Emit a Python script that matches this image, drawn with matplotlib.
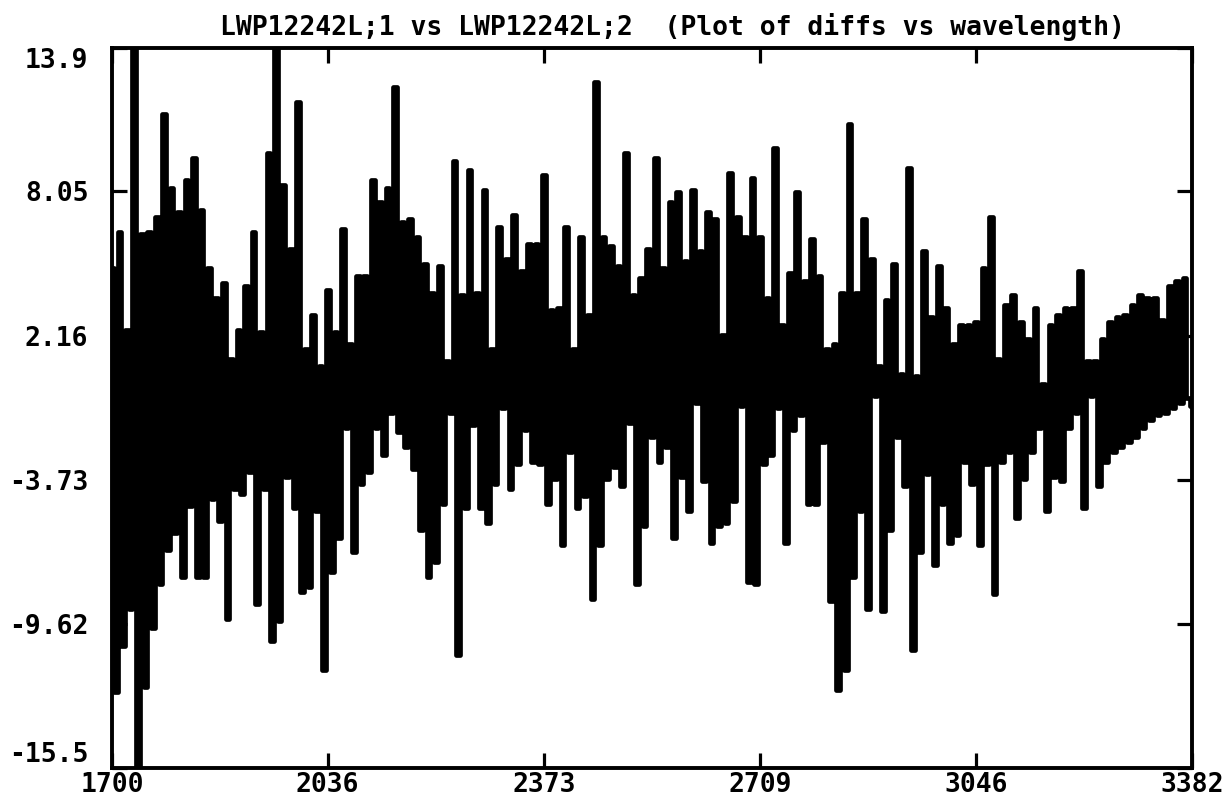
import numpy as np
import matplotlib
matplotlib.use("Agg")
import matplotlib.pyplot as plt

title = "LWP12242L;1 vs LWP12242L;2  (Plot of diffs vs wavelength)"
x_ticks = [1700, 2036, 2373, 2709, 3046, 3382]
y_ticks = [-15.5, -9.62, -3.73, 2.16, 8.05, 13.9]

# spike tops and bottoms, left to right (one pair per spike)
tops = [4.9, 6.4, 2.4, 16, 6.3, 6.4, 7.0, 11.2, 8.2, 7.2, 8.5, 9.4, 7.3, 4.9,
        3.7, 4.3, 1.2, 2.4, 4.2, 6.4, 2.3, 9.6, 16, 8.3, 5.7, 11.7, 1.6, 3.0,
        0.9, 4.0, 2.3, 6.5, 1.8, 4.6, 4.6, 8.5, 7.6, 8.2, 12.3, 6.8, 6.9, 6.2,
        5.1, 3.9, 5.0, 1.1, 9.3, 3.8, 8.9, 3.9, 8.1, 1.6, 6.6, 5.3, 7.1, 4.8, 5.9,
        5.9, 8.7, 3.2, 3.3, 6.6, 1.6, 6.2, 3.0, 12.5, 6.2, 5.8, 5.0, 9.6, 3.8,
        4.5, 5.7, 9.4, 4.9, 7.6, 8.0, 5.2, 8.1, 5.6, 7.2, 6.9, 2.2, 8.8, 7.0, 6.2, 8.6,
        6.2, 3.7, 9.8, 2.6, 4.7, 8.0, 4.4, 6.1, 4.6, 1.6, 1.8, 3.9, 10.8, 3.9,
        6.9, 5.3, 0.9, 3.6, 5.1, 0.6, 9.0, 0.5, 5.6, 2.9, 5.0, 3.3, 1.8, 2.6,
        2.6, 2.7, 4.9, 7.0, 1.2, 3.4, 3.8, 2.7, 2.0, 3.3, 0.2, 2.6, 3.0, 3.3,
        3.3, 4.8, 1.1, 1.1, 2.0, 2.7, 2.9, 3.0, 3.4, 3.8, 3.7, 3.7, 2.8, 4.2, 4.4, 4.5]
bottoms = [-12.4, -10.5, -9.0, -17, -12.2, -9.8, -8.0, -6.6, -5.9, -7.7, -4.8, -7.7,
           -7.7, -4.5, -5.4, -9.4, -4.1, -4.3, -3.4, -8.8, -4.1, -10.3, -9.5, -3.6,
           -4.9, -8.3, -8.1, -5.0,
           -11.5, -7.5, -6.1, -1.6, -6.7, -3.9, -3.4, -1.6, -2.7, -1.0, -1.8, -2.4,
           -3.3, -5.8, -7.7, -7.1, -4.7, -1.0, -10.9, -4.9, -1.5, -4.9, -5.5, -3.9,
           -0.8, -4.1, -3.1, -1.7, -3.0,
           -3.1, -4.7, -3.7, -6.4, -2.6, -4.9, -4.4, -8.6, -6.4, -3.7, -3.2, -4.0,
           -1.4, -8.0, -5.6, -2.0, -3.0, -2.4, -6.1, -3.6, -5.0, -0.6, -3.8, -6.3,
           -5.6, -5.5, -4.6, -0.7, -7.9, -8.0,
           -3.1, -2.7, -0.8, -6.3, -1.7, -1.1, -4.7, -4.7, -2.2, -8.7, -12.3, -11.5,
           -7.7, -5.0, -9.0, -0.3, -9.1, -5.8, -2.0, -4.0, -10.7, -6.7, -3.5, -7.2,
           -4.7, -6.3, -6.0, -3.0,
           -3.9, -6.4, -3.1, -8.4, -3.0, -2.6, -5.3, -3.7, -2.6, -1.6, -5.0, -3.6,
           -3.8, -1.6, -1.0, -4.9, -0.3, -4.0, -3.0, -2.6, -2.4, -2.2, -2.0, -1.6,
           -1.3, -1.1, -1.0, -0.8, -0.6, -0.4]
end_value = -0.7

n = min(len(tops), len(bottoms))
diffs = np.column_stack([tops[:n], bottoms[:n]]).ravel()
diffs = np.append(diffs, end_value)
wave = np.linspace(x_ticks[0], x_ticks[-1], len(diffs))

font = {"family": "DejaVu Sans Mono", "weight": "bold", "size": 19}

fig = plt.figure(figsize=(12.25, 8), dpi=100)
ax = fig.add_axes([112 / 1225, 32 / 800, 1080 / 1225, 720 / 800])
ax.plot(wave, diffs, color="black", lw=3.4, drawstyle="steps-mid",
        solid_joinstyle="round", solid_capstyle="round")

ax.set_xlim(x_ticks[0], x_ticks[-1])
ax.set_ylim(y_ticks[0], y_ticks[-1])
ax.set_xticks(x_ticks)
ax.set_xticklabels([str(v) for v in x_ticks], fontdict=font)
ax.set_yticks(y_ticks)
ax.set_yticklabels([f"{v:g}" for v in y_ticks], fontdict=font)
ax.tick_params(direction="in", length=11, width=2.3, top=True, right=True,
               color="black")
ax.tick_params(axis="x", pad=3)
ax.tick_params(axis="y", pad=17)
ylabels = ax.get_yticklabels()
ylabels[0].set_va("bottom")
ylabels[-1].set_va("top")
for sp in ax.spines.values():
    sp.set_linewidth(2.8)

fig.text(672 / 1225, 773 / 800, title, ha="center", va="center", fontdict=font)

fig.savefig("out.png", dpi=100)
